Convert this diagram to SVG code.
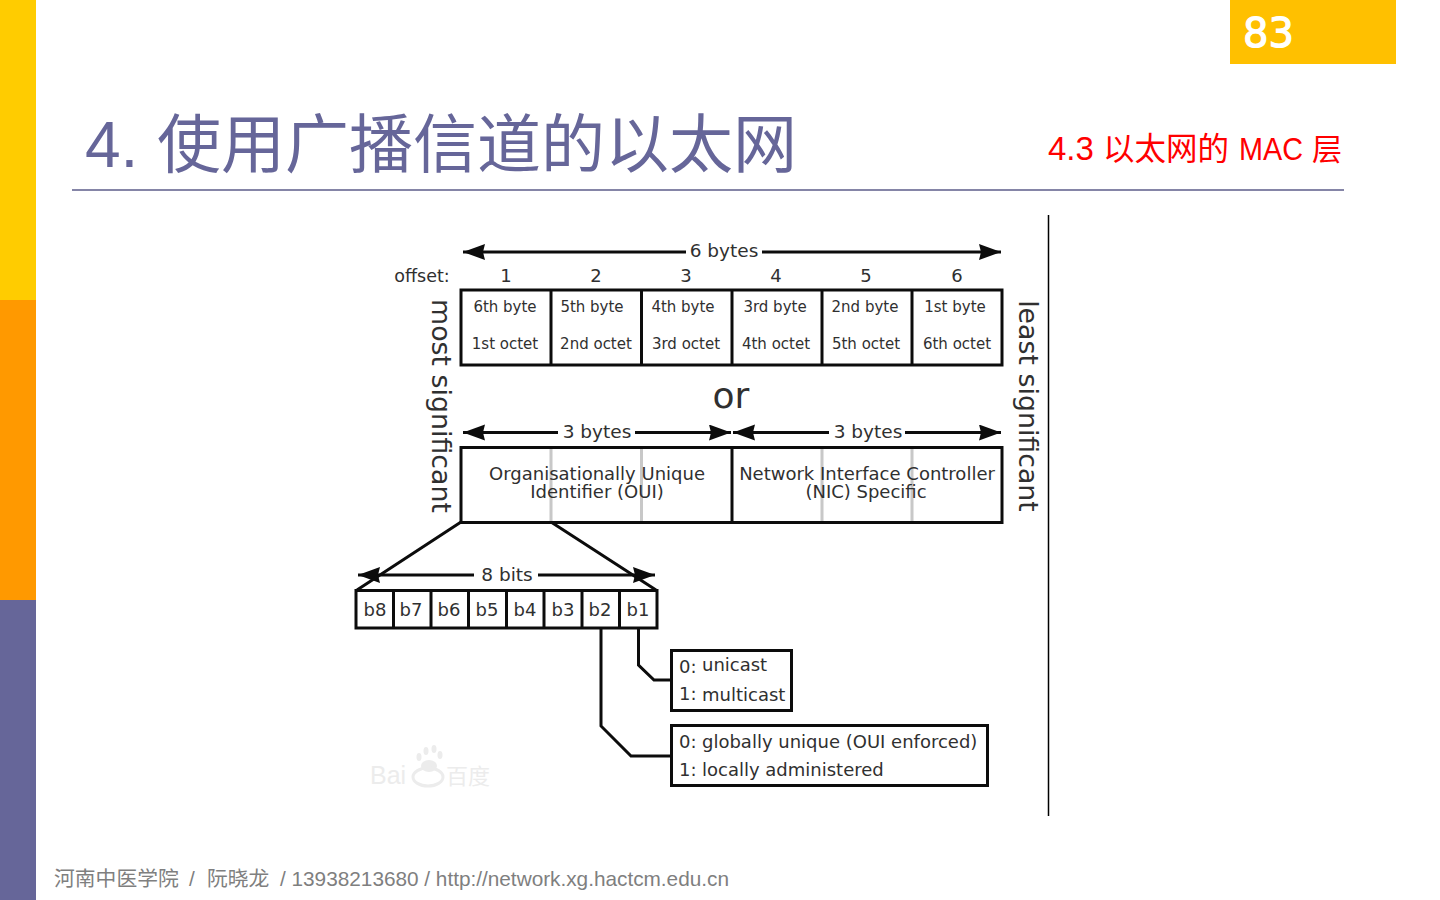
<svg xmlns="http://www.w3.org/2000/svg" width="1440" height="900" viewBox="0 0 1440 900">
<defs>
<style>
.d{font-family:"DejaVu Sans",sans-serif;fill:#303030;text-anchor:middle}
.s{font-size:15px}.m{font-size:18px}.b{font-size:18.500px}.k{fill:none;stroke:#0c0c0c;stroke-width:3}
.g{stroke:#c8c8c8;stroke-width:3}.c{stroke:#0c0c0c;stroke-width:3;fill:none}
.t{font-family:"Liberation Sans","Noto Sans CJK SC",sans-serif}
.f{font-size:20.800px;fill:#7f7f7f}.r{fill:#ff0000}
</style>
<marker id="a" markerUnits="userSpaceOnUse" markerWidth="24" markerHeight="18" refX="22" refY="8" orient="auto"><path d="M0 0L22 8L0 16L2 8Z" fill="#0c0c0c"/></marker>
</defs>
<rect width="1440" height="900" fill="#fff"/>
<rect width="36" height="300" fill="#ffcc00"/><rect y="300" width="36" height="300" fill="#ff9900"/><rect y="600" width="36" height="300" fill="#666699"/>
<rect x="1230" width="166" height="64" fill="#ffc000"/>
<text x="1243" y="47" font-family="DejaVu Sans,sans-serif" font-size="40" fill="#fff" stroke="#fff" stroke-width="1.200">83</text>
<text class="t" x="85" y="167" font-size="64" fill="#666699">4.</text>
<text class="t" x="157" y="167" font-size="64" fill="#666699">使用广播信道的以太网</text>
<line x1="72" y1="190" x2="1344" y2="190" stroke="#5c5c8a" stroke-width="1.500"/>
<text class="t r" x="1048" y="160" font-size="33">4.3</text>
<text class="t r" x="1103" y="160" font-size="31.500">以太网的</text>
<text class="t r" x="1239" y="160" font-size="32" textLength="64" lengthAdjust="spacingAndGlyphs">MAC</text>
<text class="t r" x="1312" y="160" font-size="30">层</text>
<line x1="1048.500" y1="215" x2="1048.500" y2="816" stroke="#000" stroke-width="1.500"/>
<text class="t f" x="54" y="886">河南中医学院</text>
<text class="t f" x="189" y="886">/</text>
<text class="t f" x="207" y="886">阮晓龙</text>
<text class="t f" x="280" y="886" textLength="449">/ 13938213680 / http://network.xg.hactcm.edu.cn</text>

<g id="connectors">
<path class="c" marker-end="url(#a)" d="M686 252H463"/>
<path class="c" marker-end="url(#a)" d="M762 252H1001"/>
<path class="c" marker-end="url(#a)" d="M558 432.500H463"/>
<path class="c" marker-end="url(#a)" d="M635 432.500H731"/>
<path class="c" marker-end="url(#a)" d="M829 432.500H733"/>
<path class="c" marker-end="url(#a)" d="M905 432.500H1001"/>
<path class="c" marker-end="url(#a)" d="M474 575H358"/>
<path class="c" marker-end="url(#a)" d="M538 575H655"/>
<path class="c" d="M461 522L357 590M551 522L656 590"/>
<path class="c" d="M638.500 628V665L654 680H671"/>
<path class="c" d="M601 628V726L631 756H671"/>
</g>

<g id="offsets" class="d" style="font-size:18px">
<text x="422" y="282" style="font-size:17.500px">offset:</text>
<text x="506" y="282">1</text><text x="596" y="282">2</text><text x="686" y="282">3</text><text x="776" y="282">4</text><text x="866" y="282">5</text><text x="957" y="282">6</text>
</g>
<g id="top-label" class="d b"><text x="724" y="257">6 bytes</text></g>
<g id="left-label" class="d"><text transform="translate(432 406) rotate(90)" style="font-size:26.800px">most significant</text></g>
<g id="right-label" class="d"><text transform="translate(1019 406) rotate(90)" style="font-size:26.800px">least significant</text></g>
<g id="byte-table">
<rect class="k" x="461" y="290" width="541" height="75"/>
<path class="k" d="M551 290V365M641.500 290V365M732 290V365M822 290V365M912 290V365"/>
<g class="d s">
<text x="505" y="312">6th byte</text><text x="505" y="349">1st octet</text>
<text x="592" y="312">5th byte</text><text x="596" y="349">2nd octet</text>
<text x="683" y="312">4th byte</text><text x="686" y="349">3rd octet</text>
<text x="775" y="312">3rd byte</text><text x="776" y="349">4th octet</text>
<text x="865" y="312">2nd byte</text><text x="955" y="312">1st byte</text>
<text x="866" y="349">5th octet</text><text x="957" y="349">6th octet</text>
</g>
</g>
<g id="or" class="d"><text x="731" y="408" style="font-size:36px">or</text></g>
<g id="bytes3" class="d b"><text x="597" y="438">3 bytes</text><text x="868" y="438">3 bytes</text></g>
<g id="oui-nic">
<path class="g" d="M551 449V521M641.500 449V521M822 449V521M912 449V521"/>
<rect class="k" x="461" y="447.500" width="541" height="75"/>
<path class="k" d="M732 447.500V522.500"/>
<g class="d m">
<text x="597" y="480">Organisationally Unique</text><text x="597" y="498">Identifier (OUI)</text>
<text x="867" y="480">Network Interface Controller</text><text x="866" y="498">(NIC) Specific</text>
</g>
</g>
<g id="bits-label" class="d b"><text x="507" y="581">8 bits</text></g>
<g id="bits">
<rect class="k" x="356" y="590.500" width="301" height="37.500"/>
<path class="k" d="M393.500 590V628M431 590V628M468.500 590V628M506.500 590V628M544 590V628M582 590V628M619.500 590V628"/>
<g class="d m">
<text x="375" y="616">b8</text><text x="411" y="616">b7</text><text x="449" y="616">b6</text><text x="487" y="616">b5</text><text x="525" y="616">b4</text><text x="563" y="616">b3</text><text x="600" y="616">b2</text><text x="638" y="616">b1</text>
</g>
</g>
<g id="cast-box">
<rect class="k" x="671.500" y="650.500" width="120" height="60"/>
<g class="d m" style="text-anchor:start"><text x="679" y="673">0:</text><text x="702" y="671">unicast</text><text x="679" y="700">1:</text><text x="702" y="701">multicast</text></g>
</g>
<g id="admin-box">
<rect class="k" x="671.500" y="725.500" width="316" height="60"/>
<g class="d m" style="text-anchor:start"><text x="679" y="748">0:</text><text x="702" y="748">globally unique (OUI enforced)</text><text x="679" y="776">1:</text><text x="702" y="776">locally administered</text></g>
</g>
<g id="watermark" fill="#ececec">
<ellipse cx="419" cy="757" rx="2.500" ry="4"/><ellipse cx="426" cy="751" rx="2.500" ry="4"/><ellipse cx="434" cy="749" rx="2.500" ry="4"/><ellipse cx="440" cy="755" rx="2.500" ry="4"/>
<ellipse cx="429" cy="766" rx="8" ry="6"/>
<text class="t" x="370" y="784" font-size="25" fill="#ececec">Bai</text>
<ellipse cx="428" cy="777" rx="15" ry="9" fill="none" stroke="#ececec" stroke-width="3"/>
<text class="t" x="446" y="784" font-size="22" fill="#ececec">百度</text>
</g>
</svg>
